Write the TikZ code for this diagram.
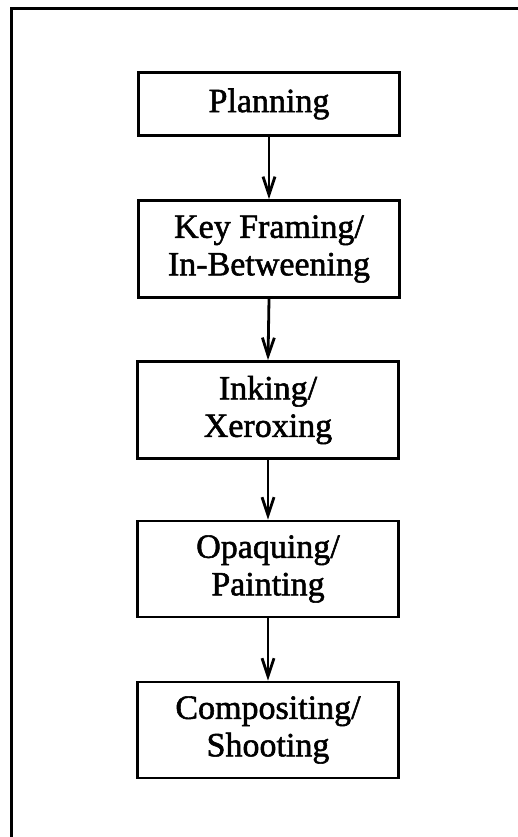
\documentclass[tikz,border=0pt]{standalone}
\usepackage{fontspec}
\setmainfont{Liberation Serif}
\newfontfamily\stagefont[FakeBold=1.6]{Liberation Serif}
\usetikzlibrary{arrows.meta}
\begin{document}
\begin{tikzpicture}[x=1pt,y=1pt,
  stage/.style={draw, line width=2.8pt, minimum width=261pt, align=center,
    font=\stagefont\fontsize{34}{37.5}\selectfont, inner sep=0pt},
  flow/.style={line width=2.8pt, -{Straight Barb[length=18pt,width=12pt,line width=2.8pt]}}]
\useasboundingbox (0,0) rectangle (518,837);
% frame around the chart (open on the right and bottom edges)
\draw[line width=3pt] (11,-2) -- (11,828) -- (520,828);
% process stages, top to bottom
\node[stage, minimum height=63pt] (plan) at (269,733) {Planning};
\node[stage, minimum height=97pt] (key)  at (269,588) {Key Framing/\\In-Betweening};
\node[stage, minimum height=97pt] (ink)  at (268,427) {Inking/\\Xeroxing};
\node[stage, minimum height=96pt] (opq)  at (268,268) {Opaquing/\\Painting};
\node[stage, minimum height=96pt] (comp) at (268,107) {Compositing/\\Shooting};
% arrows between stages
\draw[flow] (plan.south) -- (key.north);
\draw[flow] (key.south) -- (ink.north);
\draw[flow] (ink.south) -- (opq.north);
\draw[flow] (opq.south) -- (comp.north);
\end{tikzpicture}
\end{document}
